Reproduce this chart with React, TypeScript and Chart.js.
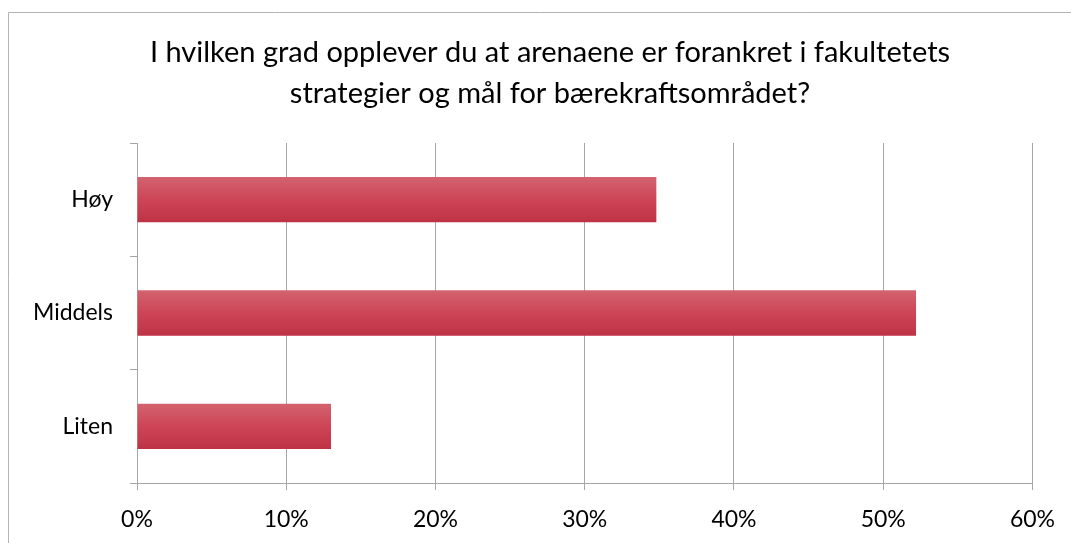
import React, { useEffect, useRef } from "react";
import { Chart, registerables } from "chart.js";

Chart.register(...registerables);

const titleLines = [
  "I hvilken grad opplever du at arenaene er forankret i fakultetets",
  "strategier og mål for bærekraftsområdet?",
];
const categories = ["Høy", "Middels", "Liten"];
const shares = [0.348, 0.522, 0.13];
const xTicks = [0, 0.1, 0.2, 0.3, 0.4, 0.5, 0.6];

const FONT = "Lato, 'Open Sans', sans-serif";

export default function App() {
  const ref = useRef<HTMLCanvasElement | null>(null);

  useEffect(() => {
    if (!ref.current) return;
    const decor = {
      id: "decor",
      beforeDraw(chart: any) {
        const ctx = chart.ctx;
        ctx.save();
        ctx.fillStyle = "#ffffff";
        ctx.fillRect(0, 0, chart.width, chart.height);
        ctx.strokeStyle = "#b4b4b4";
        ctx.lineWidth = 1;
        ctx.beginPath();
        ctx.moveTo(8.5, chart.height + 2);
        ctx.lineTo(8.5, 12.5);
        ctx.lineTo(chart.width + 2, 12.5);
        ctx.stroke();
        ctx.fillStyle = "#000000";
        ctx.font = `29px ${FONT}`;
        ctx.textAlign = "center";
        ctx.textBaseline = "middle";
        ctx.fillText(titleLines[0], 550, 53);
        ctx.fillText(titleLines[1], 550, 94);
        ctx.restore();
      },
    };

    const chart = new Chart(ref.current, {
      type: "bar",
      data: {
        labels: categories,
        datasets: [
          {
            data: shares,
            backgroundColor: (c: any) => {
              const ch = c.chart;
              const ys = ch.scales && ch.scales.y;
              if (!ys || c.dataIndex === undefined) return "#cc4456";
              const center = ys.getPixelForValue(c.dataIndex);
              const half = (ys.height / categories.length) * 0.4 / 2;
              if (!isFinite(center) || !isFinite(half) || half <= 0) return "#cc4456";
              const g = ch.ctx.createLinearGradient(0, center - half, 0, center + half);
              g.addColorStop(0, "#d3636f");
              g.addColorStop(0.5, "#cd4556");
              g.addColorStop(1, "#bf3246");
              return g;
            },
            borderWidth: 0,
            categoryPercentage: 1,
            barPercentage: 0.4,
          },
        ],
      },
      options: {
        indexAxis: "y",
        animation: false,
        responsive: false,
        layout: { padding: { top: 143, right: 36, left: 0, bottom: 0 } },
        plugins: {
          legend: { display: false },
          title: { display: false },
          tooltip: { enabled: false },
        },
        scales: {
          x: {
            min: 0,
            max: 0.6,
            afterBuildTicks: (s: any) => {
              s.ticks = xTicks.map((v) => ({ value: v }));
            },
            afterFit: (s: any) => {
              s.height = 60;
            },
            ticks: {
              callback: (v: any) => `${Math.round(Number(v) * 100)}%`,
              color: "#000000",
              font: { family: FONT, size: 23 },
              padding: 16,
              maxRotation: 0,
            },
            grid: {
              color: "#a6a6a6",
              lineWidth: 1,
              tickLength: 7,
              drawTicks: true,
            },
            border: { color: "#a6a6a6", width: 1 },
          },
          y: {
            afterFit: (s: any) => {
              s.width = 137;
            },
            ticks: {
              color: "#000000",
              font: { family: FONT, size: 23 },
              padding: 17,
            },
            grid: {
              offset: true,
              drawOnChartArea: false,
              color: "#a6a6a6",
              tickLength: 7,
            },
            border: { color: "#a6a6a6", width: 1 },
          },
        },
      },
      plugins: [decor],
    } as any);
    return () => chart.destroy();
  }, []);

  return (
    <canvas
      ref={ref}
      width={1071}
      height={543}
      style={{ position: "fixed", left: 0, top: 0, width: 1071, height: 543 }}
    />
  );
}
